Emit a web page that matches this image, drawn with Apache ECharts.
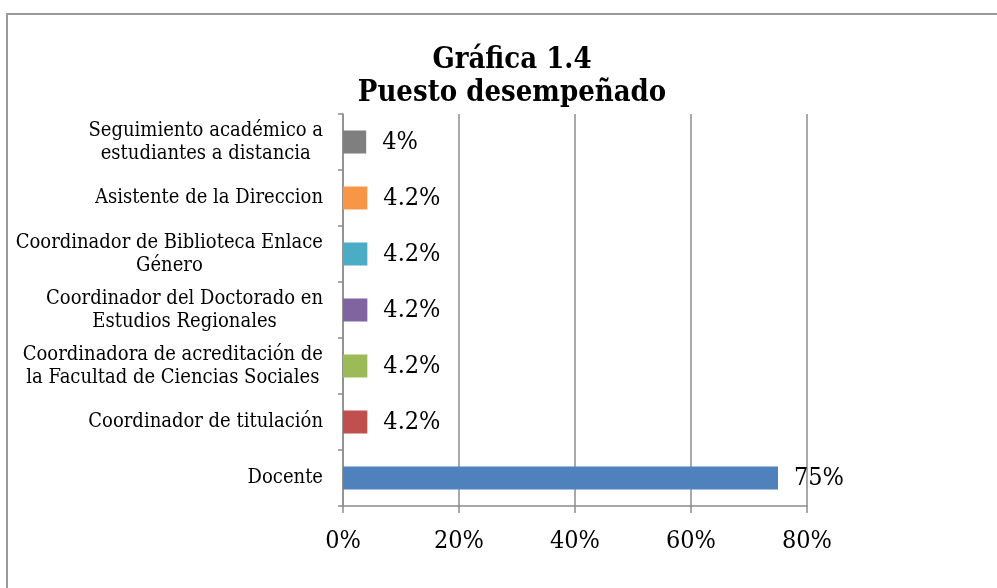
<!DOCTYPE html>
<html>
<head>
<meta charset="utf-8">
<script src="https://cdn.jsdelivr.net/npm/echarts@6/dist/echarts.min.js"></script>
<style>
  html, body { margin: 0; padding: 0; background: #fff; }
  #chart { width: 997px; height: 588px; }
</style>
</head>
<body>
<div id="chart"></div>
<script>
// categorias (de abajo hacia arriba)
const categories = [
  "Docente",
  "Coordinador de titulación",
  "Coordinadora de acreditación de\nla Facultad de Ciencias Sociales",
  "Coordinador del Doctorado en\nEstudios Regionales",
  "Coordinador de Biblioteca Enlace\nGénero",
  "Asistente de la Direccion",
  "Seguimiento académico a\nestudiantes a distancia",
];
const values = [75, 4.2, 4.2, 4.2, 4.2, 4.2, 4];
const barColors = ["#4F81BD", "#C0504D", "#9BBB59", "#8064A2", "#4BACC6", "#F79646", "#7F7F7F"];
const xTicks = [0, 20, 40, 60, 80];

const serif = "'DejaVu Serif Condensed', 'DejaVu Serif', serif";
const gray = "#8c8c8c";

const chart = echarts.init(document.getElementById("chart"));

const option = {
  animation: false,
  backgroundColor: "#fff",
  title: {
    text: "Gráfica 1.4\nPuesto desempeñado",
    left: 507,
    top: 39,
    textAlign: "center",
    textStyle: {
      fontFamily: serif,
      fontWeight: "bold",
      fontSize: 29,
      lineHeight: 33,
      color: "#000",
    },
  },
  graphic: [
    {
      type: "rect",
      shape: { x: 7, y: 14, width: 1000, height: 600 },
      style: { fill: "none", stroke: "#9a9a9a", lineWidth: 2 },
      silent: true,
    },
  ],
  grid: {
    left: 343,
    right: 190,
    top: 114,
    bottom: 82,
    containLabel: false,
  },
  xAxis: {
    type: "value",
    min: xTicks[0],
    max: xTicks[xTicks.length - 1],
    interval: 20,
    axisLine: { show: true, lineStyle: { color: gray, width: 1.5 } },
    axisTick: { show: true, length: 7, lineStyle: { color: gray, width: 1.5 } },
    splitLine: { show: true, lineStyle: { color: gray, width: 1.5 } },
    axisLabel: {
      formatter: "{value}%",
      margin: 23,
      fontFamily: serif,
      fontSize: 25,
      color: "#000",
    },
  },
  yAxis: {
    type: "category",
    data: categories,
    axisLine: { show: true, lineStyle: { color: gray, width: 1.5 } },
    axisTick: { show: true, length: 5, lineStyle: { color: gray, width: 1.5 } },
    axisLabel: {
      margin: 20,
      align: "right",
      formatter: (v) => v.split("\n").map((s) => "{c|" + s + "}").join("\n"),
      rich: {
        c: {
          align: "center",
          fontFamily: serif,
          fontSize: 20,
          lineHeight: 23,
          color: "#000",
        },
      },
    },
  },
  series: [
    {
      type: "bar",
      barWidth: 23,
      data: values.map((v, i) => ({ value: v, itemStyle: { color: barColors[i] } })),
      label: {
        show: true,
        position: "right",
        distance: 16,
        formatter: (p) => p.value + "%",
        fontFamily: serif,
        fontSize: 25,
        color: "#000",
      },
    },
  ],
};

chart.setOption(option);
</script>
</body>
</html>
